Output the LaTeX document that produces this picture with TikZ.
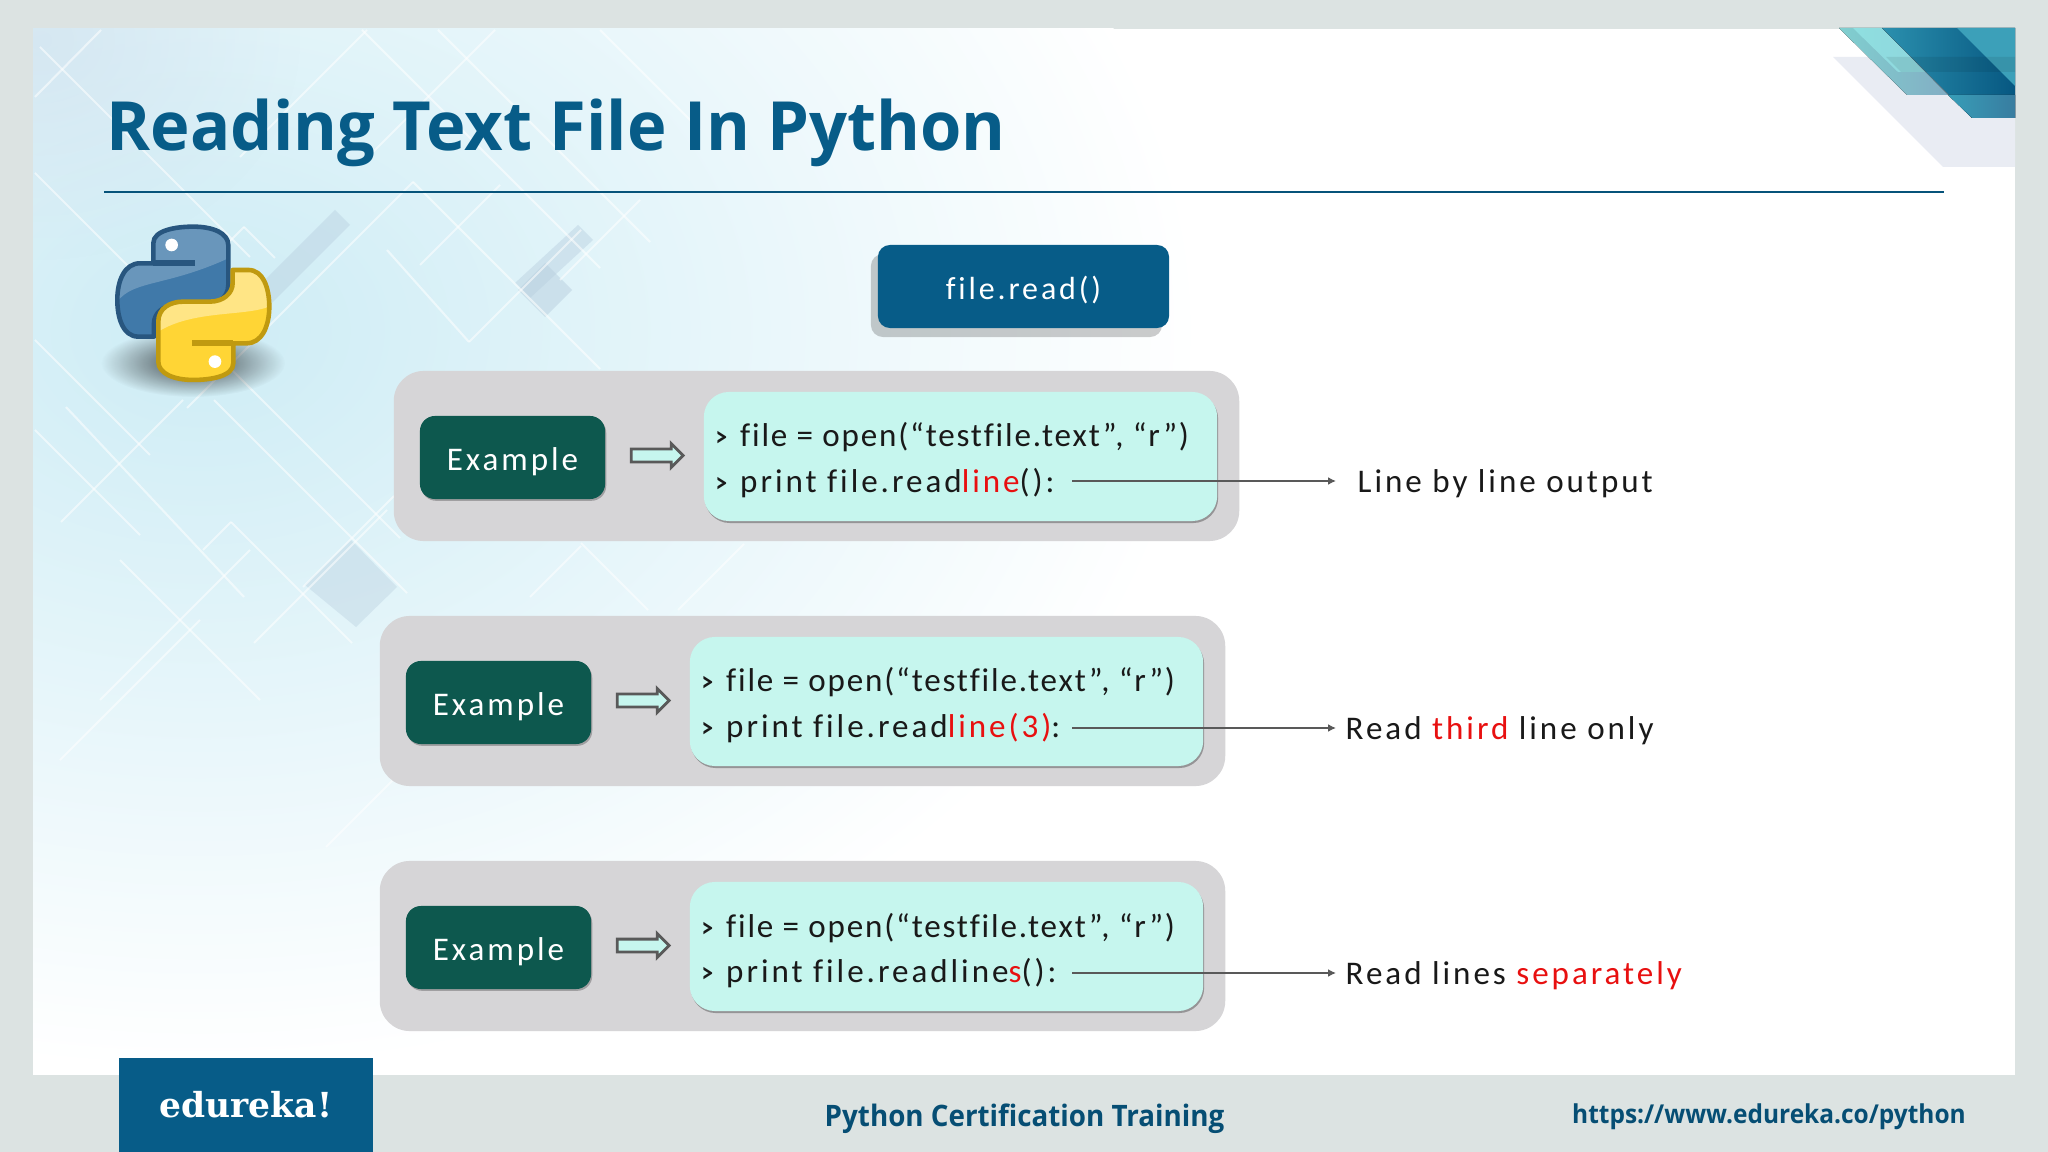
\documentclass[tikz,border=0pt]{standalone}
\usepackage{graphicx}
\usepackage{fontspec}
\usetikzlibrary{arrows.meta,shadows,shapes.arrows,fadings}

\newfontfamily\titlefont[FakeStretch=0.985]{Open Sans}
\newfontfamily\footerfont[FakeStretch=0.94]{Open Sans}
\newfontfamily\boxfont[LetterSpace=9,Ligatures=NoCommon]{Carlito}
\newfontfamily\tightfont[LetterSpace=5.5,Ligatures=NoCommon]{Carlito}
\newfontfamily\logofont{DejaVu Serif}

\definecolor{framegray}{HTML}{DCE3E2}
\definecolor{panelgray}{HTML}{D6D5D7}
\definecolor{codecyan}{HTML}{C6F6EE}
\definecolor{examplegreen}{HTML}{0D584E}
\definecolor{brandblue}{HTML}{075C88}
\definecolor{hlred}{HTML}{E81010}
\definecolor{glowblue}{HTML}{CDECF5}
\definecolor{patchblue}{HTML}{B9CFDF}
\definecolor{cornerblue}{HTML}{D0E2EF}
\definecolor{ribbongray}{HTML}{E9ECF3}
\definecolor{snakeblue}{HTML}{4079A9}
\definecolor{snakeline}{HTML}{28567F}
\definecolor{snakeyellow}{HTML}{FFD535}
\definecolor{snakegold}{HTML}{C09A10}

\tikzfading[name=softspot, inner color=transparent!30, outer color=transparent!100]

\newcommand{\hl}[1]{\textcolor{hlred}{#1}}
\newcommand{\chev}{\scalebox{0.7}[0.85]{\bfseries >}\hspace{0.13cm}}
\newcommand{\snakepath}{(-120,-120) -- (-120,-180) .. controls (-120,-220) and (-50,-230) .. (0,-230)
	.. controls (60,-230) and (105,-210) .. (105,-175) -- (105,-55)
	.. controls (105,-15) and (70,5) .. (30,5) -- (-50,5)
	.. controls (-90,5) and (-118,30) .. (-118,60) -- (-118,100) -- (-165,100)
	.. controls (-210,100) and (-228,45) .. (-228,-10)
	.. controls (-228,-70) and (-205,-120) .. (-160,-120) -- cycle}

\tikzset{
	latticeline/.style={draw=white, line width=0.6pt, opacity=0.55},
	latticepatch/.style={fill=patchblue, opacity=#1},
	panelbox/.style={fill=panelgray, rounded corners=0.3cm, minimum width=8.45cm, minimum height=1.7cm},
	codebox/.style={fill=codecyan, rounded corners=0.25cm, minimum width=5.13cm, minimum height=1.29cm,
		drop shadow={shadow xshift=0.01cm, shadow yshift=-0.02cm, fill=black, opacity=0.3}},
	examplebox/.style={fill=examplegreen, text=white, rounded corners=0.15cm, minimum width=1.85cm, minimum height=0.83cm,
		text height=0.3cm, text depth=0.05cm, font=\boxfont\fontsize{9.4}{11}\selectfont,
		drop shadow={shadow xshift=0.012cm, shadow yshift=-0.018cm, fill=black, opacity=0.25}},
	buttonbox/.style={fill=brandblue, text=white, rounded corners=0.12cm, minimum width=2.91cm, minimum height=0.83cm,
		text height=0.3cm, text depth=0.05cm, font=\boxfont\fontsize{9.1}{11}\selectfont,
		drop shadow={shadow xshift=-0.07cm, shadow yshift=-0.09cm, fill=black, opacity=0.2}},
	hollowarrow/.style={single arrow, draw=black!65, line width=0.8pt, fill=codecyan, inner sep=0pt,
		text height=0.1cm, text depth=0cm, minimum height=0.52cm, single arrow head extend=0.055cm},
	codeline/.style={anchor=base west, inner sep=0pt, text=black!90, font=\boxfont\fontsize{9.4}{11}\selectfont},
	outlabel/.style={anchor=west, inner ysep=0pt, text=black!90, text height=0.3cm, text depth=0.08cm,
		font=\boxfont\fontsize{9.4}{11}\selectfont},
	flow/.style={draw=black!65, line width=0.6pt, -{Latex[length=0.08cm,width=0.08cm]}},
	footertext/.style={anchor=base, inner sep=0pt, text=brandblue!85!black}
}

\begin{document}
\begin{tikzpicture}[x=0.01cm, y=-0.01cm]
	\useasboundingbox (0,0) rectangle (2048,1152);

	% frame and slide
	\fill[framegray] (0,0) rectangle (2048,1152);
	\fill[white] (33,29) rectangle (2015,1075);

	% background glow and lattice
	\begin{scope}
		\clip (33,29) rectangle (2015,1075);
		\shade[inner color=glowblue, outer color=white] (200,330) ellipse (1000 and 740);
		\fill[cornerblue, path fading=softspot] (40,40) ellipse (260 and 220);
		\fill[latticepatch=0.45] (250,295) -- (335,210) -- (350,225) -- (265,310) -- cycle;
		\fill[latticepatch=0.45] (515,283) -- (578,225) -- (593,240) -- (530,298) -- cycle;
		\fill[latticepatch=0.5] (545,263) -- (572,290) -- (545,317) -- (518,290) -- cycle;
		\fill[latticepatch=0.4] (351,540) -- (397,587) -- (356,627) -- (305,585) -- cycle;
		\foreach \xa/\ya/\xb/\yb in {
			40/47/250/257, 362/30/600/268, 438/30/650/242, 413/182/600/369,
			387/250/469/342, 35/173/400/538, 66/407/244/597, 214/400/407/593,
			581/543/648/610, 35/97/101/30, 367/30/240/157, 413/182/187/408,
			469/342/581/230, 183/400/61/522, 254/643/387/510, 303/587/394/496,
			203/550/231/522, 231/522/352/643, 530/597/581/546, 678/610/744/544,
			326/847/420/753, 244/227/275/258, 244/227/205/266, 35/340/150/455,
			495/30/360/165, 600/30/700/130, 500/185/420/265, 640/200/560/280,
			35/430/140/535, 120/560/260/700, 100/700/250/550, 60/760/200/620}
			\draw[latticeline] (\xa,\ya) -- (\xb,\yb);
	\end{scope}

	% top right ribbons
	\fill[ribbongray] (1833,57) -- (1943,167) -- (2015,167) -- (2015,57) -- cycle;
	\fill[left color=cyan!25!teal!50, right color=brandblue!50] (1839,28) -- (1907,95) -- (1948,95) -- (1882,28) -- cycle;
	\fill[teal!35!cyan!40, opacity=0.6] (1853,28) -- (1898,72) -- (1925,72) -- (1882,28) -- cycle;
	\fill[left color=brandblue!80!cyan!85, right color=brandblue!95!black] (1882,28) -- (1972,118) -- (2015,118) -- (2015,28) -- cycle;
	\fill[left color=brandblue!75!cyan!80, right color=brandblue!80] (1948,95) -- (1972,118) -- (2015,118) -- (2015,95) -- cycle;
	\fill[brandblue!75!cyan!78] (1957,28) -- (2015,86) -- (2015,28) -- cycle;
	\fill[black, opacity=0.08] (1886,57) -- (1901,72) -- (2015,72) -- (2015,57) -- cycle;

	% title
	\node[anchor=base west, inner sep=0pt, text=brandblue, font=\titlefont\bfseries\fontsize{19.3}{23}\selectfont] (title) at (106,151) {Reading Text File In Python};
	\draw[brandblue!90!black, line width=0.7pt] (104,192) -- (1944,192);

	% python logo
	\fill[black, path fading=softspot] (193,363) ellipse (92 and 34);
	\begin{scope}[shift={(193.3,303.3)}, scale=0.3333]
		\fill[snakeblue] \snakepath;
		\begin{scope}
			\clip \snakepath;
			\fill[white, opacity=0.22] (-228,-5) .. controls (-180,-70) and (-80,-50) .. (105,-135) -- (105,-230) -- (-228,-230) -- cycle;
		\end{scope}
		\draw[snakeline, line width=1.3pt, line join=round] \snakepath;
		\draw[snakeline, line width=1.6pt] (-120,-120) -- (5,-120);
		\fill[white] (-65,-175) circle (19);
	\end{scope}
	\begin{scope}[shift={(193.3,303.3)}, scale=0.3333, rotate=180]
		\fill[snakeyellow] \snakepath;
		\begin{scope}
			\clip \snakepath;
			\fill[white, opacity=0.4] (-228,-10) .. controls (-150,-40) and (0,-20) .. (105,-85) -- (105,100) -- (-228,100) -- cycle;
		\end{scope}
		\draw[snakegold, line width=1.3pt, line join=round] \snakepath;
		\draw[snakegold, line width=1.6pt] (-120,-120) -- (5,-120);
		\fill[white] (-65,-175) circle (19);
	\end{scope}

	% method button
	\node[buttonbox] (method) at (1023.5,286.5) {file.read()};

	% example rows
	\foreach \n/\dx/\dy/\liney/\gap/\code/\result in {
		1/14/-245/726/21/{print file.read\hl{line}():}/{Line by line output},
		2/0/0/728/9/{print file.read\hl{line(3)}:}/{Read \hl{third} line only},
		3/0/245/728/9/{print file.readline\hl{s}():}/{Read lines \hl{separately}}}
	{
		\begin{scope}[shift={(\dx,\dy)}]
			\node[panelbox] (panel\n) at (802.5,701) {};
			\node[codebox] (code\n) at (946.5,701.5) {};
			\node[examplebox] (example\n) at (498.5,702.5) {Example};
			\node[hollowarrow] (arrow\n) at (640,700.5) {};
			\node[codeline] (first\n) at (701,692) {\chev\tightfont file = open(“testfile.text”, “r”)};
			\node[codeline] (second\n) at (701,737) {\chev\code};
			\coordinate (tail\n) at ({1072-\dx},\liney);
			\node[outlabel, inner xsep=\gap*0.01cm] (out\n) at ({1336-\dx},\liney) {\result};
			\draw[flow] (tail\n) -- (out\n.west);
		\end{scope}
	}

	% footer
	\fill[framegray] (0,1075) rectangle (2048,1152);
	\fill[brandblue] (119,1058) rectangle (373,1152);
	\node[anchor=base, inner sep=0pt, text=white, font=\logofont\bfseries\fontsize{9.8}{12}\selectfont] (brand) at (246,1117) {edureka!};
	\node[footertext, font=\footerfont\bfseries\fontsize{8.4}{10}\selectfont] (course) at (1024.5,1126) {Python Certification Training};
	\node[footertext, font=\footerfont\bfseries\fontsize{7.4}{9}\selectfont] (site) at (1769,1123) {https://www.edureka.co/python};
\end{tikzpicture}
\end{document}
